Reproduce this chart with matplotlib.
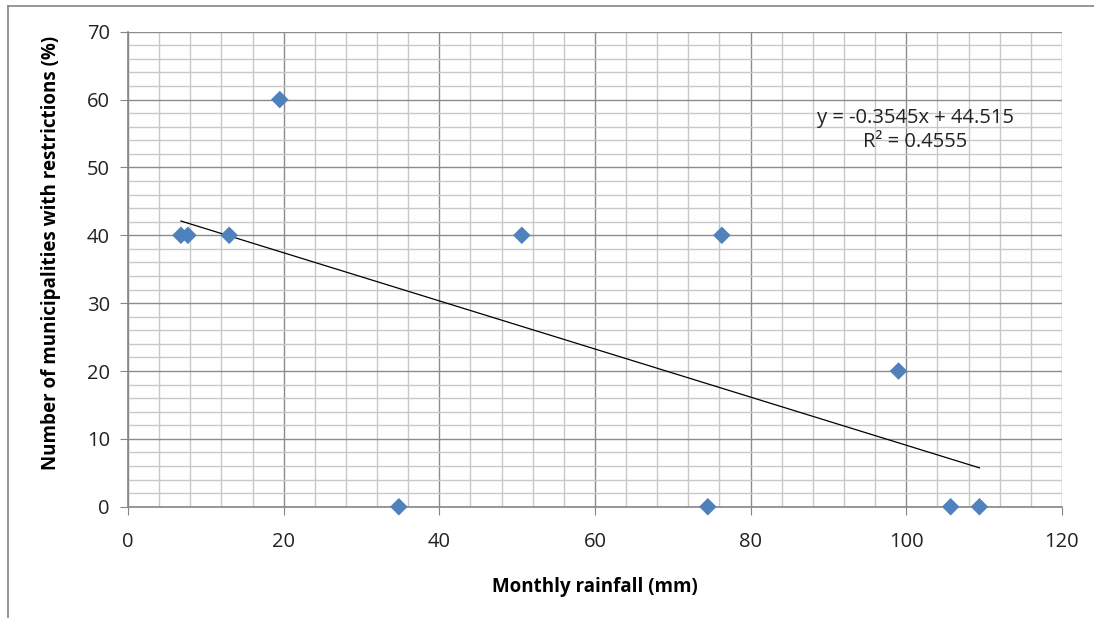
import matplotlib.pyplot as plt
from matplotlib.ticker import MultipleLocator

# data
rainfall = [6.8, 7.7, 13.0, 19.5, 34.8, 50.6, 74.5, 76.3, 99.0, 105.7, 109.4]
restrictions = [40, 40, 40, 60, 0, 40, 0, 40, 20, 0, 0]
slope = -0.3545
intercept = 44.515
r2 = 0.4555

plt.rcParams['font.family'] = ['Open Sans', 'DejaVu Sans']

fig = plt.figure(figsize=(10.94, 6.18), dpi=100)
ax = fig.add_axes([0.117, 0.18, 0.8537, 0.7687])

# outer chart frame (only left/top visible in the source)
fig.add_artist(plt.Line2D([0.0075, 0.0075], [0, 0.991], color='#868686', lw=1.2))
fig.add_artist(plt.Line2D([0.0075, 1.0], [0.991, 0.991], color='#868686', lw=1.2))

ax.set_xlim(0, 120)
ax.set_ylim(0, 70)
ax.xaxis.set_major_locator(MultipleLocator(20))
ax.xaxis.set_minor_locator(MultipleLocator(4))
ax.yaxis.set_major_locator(MultipleLocator(10))
ax.yaxis.set_minor_locator(MultipleLocator(2))

ax.grid(which='major', color='#8c8c8c', lw=1.0)
ax.grid(which='minor', color='#c8c8c8', lw=1.0)
ax.set_axisbelow(True)

for side in ['left', 'bottom']:
    ax.spines[side].set_color('#868686')
    ax.spines[side].set_linewidth(1.2)
for side in ['right', 'top']:
    ax.spines[side].set_visible(False)

ax.tick_params(which='major', direction='out', length=6, color='#868686',
               labelsize=14.5, labelcolor='#222222')
ax.tick_params(axis='x', pad=12)
ax.tick_params(axis='y', pad=7)
ax.tick_params(which='minor', length=0)

# trendline
x0, x1 = min(rainfall), max(rainfall)
ax.plot([x0, x1], [slope * x0 + intercept, slope * x1 + intercept],
        color='black', lw=0.9, zorder=2)

ax.scatter(rainfall, restrictions, marker='D', s=80, color='#4F81BD',
           edgecolors='none', zorder=3, clip_on=False)

ax.text(0.843, 0.793, 'y = -0.3545x + 44.515\nR² = 0.4555', transform=ax.transAxes,
        ha='center', va='center', fontsize=14.5, color='#222222', linespacing=1.25)

ax.set_xlabel('Monthly rainfall (mm)', fontsize=13.5, fontweight='bold', labelpad=18)
ax.set_ylabel('Number of municipalities with restrictions (%)', fontsize=13.5,
              fontweight='bold')
ax.yaxis.set_label_coords(-0.072, 0.534)

fig.savefig('out.png', dpi=100)
